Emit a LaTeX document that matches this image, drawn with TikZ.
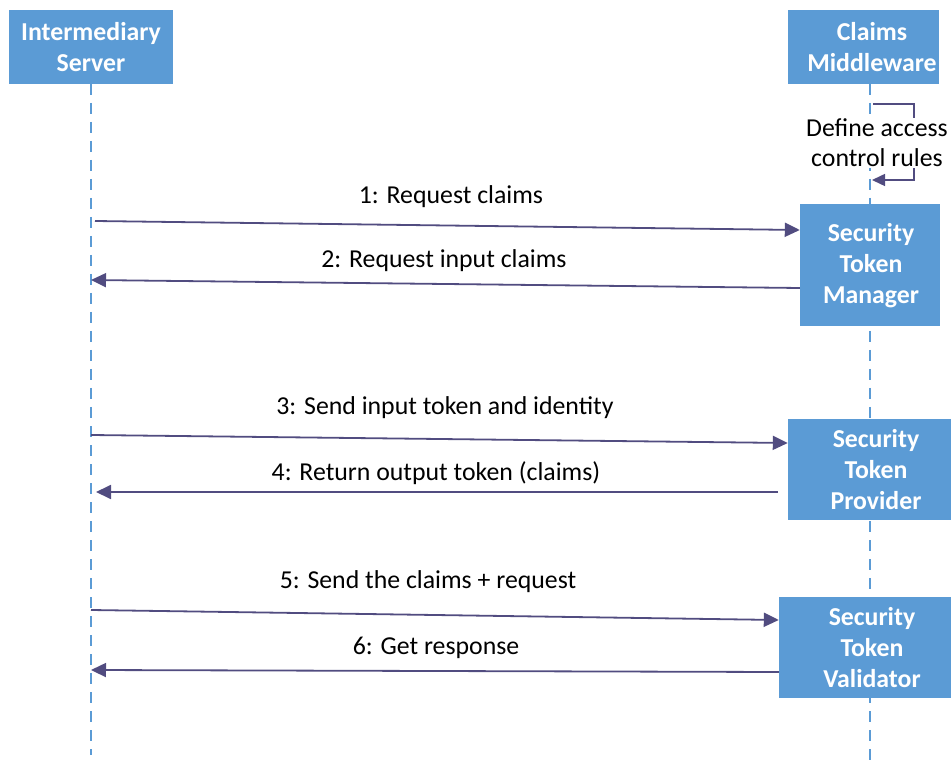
\documentclass[tikz,border=0pt]{standalone}
\usepackage{fontspec}
\setmainfont{Carlito}
\usetikzlibrary{arrows.meta}
\definecolor{boxblue}{HTML}{5B9BD5}
\definecolor{msgpurple}{HTML}{514C80}
\begin{document}
\begin{tikzpicture}[x=1pt,y=-1pt,
  actor/.style={fill=boxblue, draw=none, inner sep=0pt},
  actortext/.style={text=white, font=\fontsize{25.8}{31}\selectfont\bfseries, align=center, inner sep=0pt},
  lifeline/.style={draw=boxblue, line width=1.3pt, dash pattern=on 11pt off 8pt},
  msg/.style={draw=msgpurple, line width=1.8pt, -{Triangle[length=15pt,width=14pt]}},
  selfmsg/.style={draw=msgpurple, line width=1.5pt, -{Triangle[length=13pt,width=12pt]}},
  msglabel/.style={font=\fontsize{25.8}{30}\selectfont, inner sep=0pt, align=center},
]
\useasboundingbox (0,0) rectangle (951,767);

% lifelines (drawn first so the boxes sit on top)
\coordinate (isend) at (91,755);
\coordinate (cmend) at (870,767);
\coordinate (istop) at (91,84);
\coordinate (cmtop) at (870,84);
\draw[lifeline] (istop) -- (isend);
\draw[lifeline] (cmtop) -- (cmend);

% participant boxes
\node[actor, minimum width=164pt, minimum height=74pt] (is) at (91,47) {};
\node[actortext] (istext) at (91,47) {Intermediary\\Server};

\node[actor, minimum width=151pt, minimum height=74pt] (cm) at (863.5,47) {};
\node[actortext] (cmtext) at (872,47) {Claims\\Middleware};

\node[actor, minimum width=140pt, minimum height=122pt] (stm) at (870,265) {};
\node[actortext] (stmtext) at (871,266) {Security\\Token\\Manager};

\node[actor, minimum width=163pt, minimum height=101pt] (stp) at (869.5,469.5) {};
\node[actortext] (stptext) at (876,470) {Security\\Token\\Provider};

\node[actor, minimum width=172pt, minimum height=101pt] (stv) at (865,647.5) {};
\node[actortext] (stvtext) at (872,648) {Security\\Token\\Validator};

% self message on the middleware
\coordinate (sl1) at (873,104);
\coordinate (sl2) at (914,104);
\coordinate (sl3) at (914,180);
\coordinate (sl4) at (872,180);
\draw[selfmsg] (sl1) -- (sl2) -- (sl3) -- (sl4);
\node[msglabel, fill=white, inner sep=1pt] (sltext) at (877,143) {Define access\\control rules};

% messages
\coordinate (m1s) at (95,221);
\draw[msg] (m1s) -- (stm.west |- 0,230);
\node[msglabel] (m1) at (451,197) {1: Request claims};

\coordinate (m2e) at (91,280);
\draw[msg] (stm.west |- 0,288) -- (m2e);
\node[msglabel] (m2) at (444,261) {2: Request input claims};

\coordinate (m3s) at (91,435);
\draw[msg] (m3s) -- (stp.west |- 0,443);
\node[msglabel] (m3) at (445,408) {3: Send input token and identity};

\coordinate (m4s) at (778,492);
\coordinate (m4e) at (96,492);
\draw[msg] (m4s) -- (m4e);
\node[msglabel] (m4) at (436,473) {4: Return output token (claims)};

\coordinate (m5s) at (91,610);
\draw[msg] (m5s) -- (stv.west |- 0,620);
\node[msglabel] (m5) at (428,582) {5: Send the claims + request};

\coordinate (m6e) at (91,670);
\draw[msg] (stv.west |- 0,672) -- (m6e);
\node[msglabel] (m6) at (436,648) {6: Get response};
\end{tikzpicture}
\end{document}
